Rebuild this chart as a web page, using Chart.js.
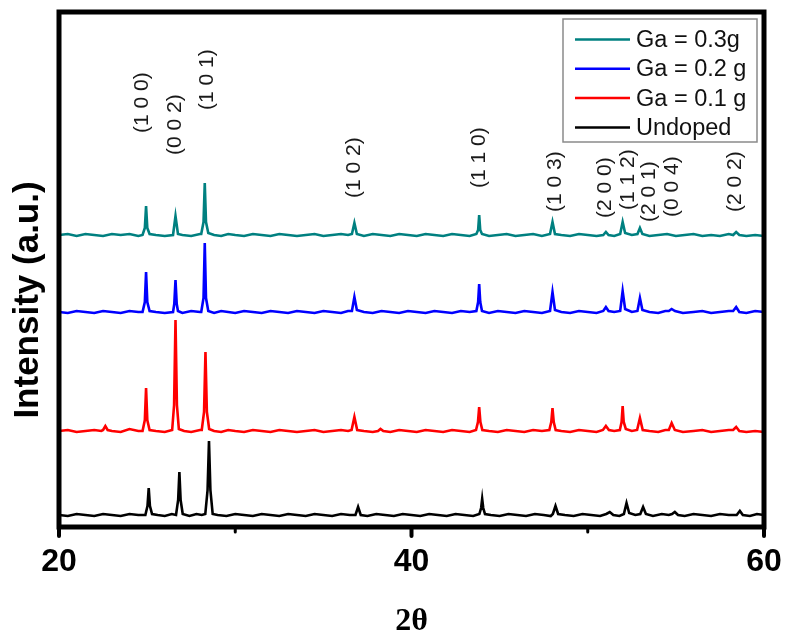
<!DOCTYPE html>
<html>
<head>
<meta charset="utf-8">
<title>XRD patterns</title>
<script src="https://cdn.jsdelivr.net/npm/chart.js"></script>
<style>
  html, body { margin: 0; padding: 0; background: #ffffff; }
  #xrd-canvas { display: block; }
</style>
</head>
<body>
<canvas id="xrd-canvas" width="785" height="633"></canvas>
<script>
// series as [2theta, intensity] pairs (offset stacked, a.u.)
const gaThree = [
  [20,295],[20.5,296],[21,294],[21.5,296],[22,295],[22.5,294],[23,296],[23.5,295],[24,296],[24.5,294],
  [24.74,295],[24.87,302],[24.94,324],[25.01,302],[25.14,296],
  [25.5,295],[26,294],
  [26.47,295],[26.61,314],[26.75,296],
  [27,295],[27.5,294],[28,296],
  [28.07,296],[28.2,308],[28.27,347],[28.34,308],[28.47,297],
  [28.8,295],[29.2,294],[29.6,296],[30,295],[30.5,294],[31,296],[31.5,295],[32,294],[32.5,296],[33,295],
  [33.5,294],[34,295],[34.5,296],[35,294],[35.5,295],[36,296],[36.4,295],
  [36.62,296],[36.76,307],[36.9,296],
  [37.3,294],[37.8,296],[38.3,295],[38.8,294],[39.3,296],[39.8,295],[40.3,294],[40.8,296],[41.3,295],
  [41.8,294],[42.3,296],[42.8,295],[43.3,294],
  [43.68,296],[43.78,300],[43.84,315],[43.9,300],[44.0,296],
  [44.4,294],[44.9,295],[45.4,296],[45.9,294],[46.4,295],[46.9,296],[47.4,294],
  [47.86,296],[48.0,308],[48.14,296],
  [48.5,295],[49,294],[49.5,296],[50,295],[50.5,294],
  [50.88,295],[51.03,298],[51.18,295],
  [51.5,294],
  [51.84,296],[51.98,308],[52.12,297],
  [52.5,295],
  [52.82,296],[52.96,302],[53.1,296],
  [53.5,294],[54,295],[54.5,296],[55,294],[55.5,295],[56,296],[56.5,294],[57,295],[57.5,294],[58,296],
  [58.25,295],[58.42,298],[58.6,295],
  [59,294],[59.5,295],[60,294]
];

const gaTwo = [
  [20,218],[20.5,217],[21,219],[21.5,218],[22,217],[22.5,219],[23,218],[23.5,217],[24,219],[24.5,218],
  [24.74,218],[24.87,228],[24.94,258],[25.01,228],[25.14,219],
  [25.5,218],[26,217],
  [26.47,218],[26.54,226],[26.61,250],[26.68,226],[26.75,219],
  [27,217],[27.5,219],[28,218],
  [28.07,218],[28.2,232],[28.27,287],[28.34,232],[28.47,219],
  [28.8,217],[29.2,219],[29.6,218],[30,217],[30.5,219],[31,218],[31.5,217],[32,219],[32.5,218],[33,217],
  [33.5,219],[34,218],[34.5,217],[35,219],[35.5,218],[36,217],[36.4,219],
  [36.62,219],[36.76,233],[36.9,220],
  [37.3,218],[37.8,217],[38.3,219],[38.8,218],[39.3,217],[39.8,219],[40.3,218],[40.8,217],[41.3,219],
  [41.8,218],[42.3,217],[42.8,219],[43.3,218],
  [43.68,219],[43.78,228],[43.84,246],[43.9,228],[44.0,219],
  [44.4,217],[44.9,219],[45.4,218],[45.9,217],[46.4,219],[46.9,218],[47.4,217],
  [47.86,219],[48.0,238],[48.14,220],
  [48.5,218],[49,217],[49.5,219],[50,218],[50.5,217],
  [50.88,219],[51.03,223],[51.18,219],
  [51.5,218],
  [51.84,219],[51.98,239],[52.12,221],
  [52.5,218],
  [52.82,219],[52.96,232],[53.1,220],
  [53.5,218],[54,217],[54.4,219],
  [54.6,219],[54.76,221],[54.95,219],
  [55.4,217],[56,218],[56.5,219],[57,217],[57.5,218],[58,219],
  [58.25,219],[58.42,223],[58.6,218],
  [59,217],[59.5,219],[60,218]
];

const gaOne = [
  [20,99],[20.5,100],[21,98],[21.5,99],[22,100],[22.4,99],
  [22.5,100],[22.63,104],[22.76,100],
  [23,99],[23.5,98],[24,101],[24.5,99],
  [24.74,99],[24.87,110],[24.94,142],[25.01,110],[25.14,100],
  [25.5,99],[26,98],
  [26.42,100],[26.53,125],[26.61,210],[26.69,125],[26.8,101],
  [27.1,99],[27.5,98],[28,100],
  [28.1,100],[28.23,118],[28.31,178],[28.39,118],[28.52,101],
  [28.8,99],[29.2,98],[29.6,100],[30,99],[30.5,98],[31,100],[31.5,99],[32,98],[32.5,100],[33,99],
  [33.5,98],[34,99],[34.5,100],[35,98],[35.5,99],[36,100],[36.4,99],
  [36.6,100],[36.76,113],[36.92,100],
  [37.3,99],[37.8,98],[38.1,99],[38.24,101],[38.4,99],[38.8,98],[39.3,100],[39.8,99],[40.3,98],
  [40.8,100],[41.3,99],[41.8,98],[42.3,100],[42.8,99],[43.3,98],
  [43.66,100],[43.77,108],[43.84,123],[43.91,108],[44.02,100],
  [44.4,99],[44.9,98],[45.4,100],[45.9,99],[46.4,98],[46.9,100],[47.4,99],
  [47.82,100],[47.93,108],[48.0,122],[48.07,108],[48.18,100],
  [48.5,99],[49,98],[49.5,100],[50,99],[50.5,98],
  [50.86,100],[51.03,104],[51.2,100],
  [51.5,99],
  [51.82,100],[51.92,108],[51.98,124],[52.04,108],[52.16,101],
  [52.5,99],
  [52.8,100],[52.96,112],[53.12,100],
  [53.5,99],[54,98],[54.4,100],
  [54.6,100],[54.76,107],[54.94,100],
  [55.4,98],[56,99],[56.5,100],[57,98],[57.5,99],[58,100],
  [58.25,100],[58.42,103],[58.6,99],
  [59,98],[59.5,99],[60,98]
];

const undoped = [
  [20,15],[20.5,14],[21,16],[21.5,15],[22,14],[22.5,16],[23,15],[23.5,14],[24,16],[24.5,15],
  [24.9,15],[25.02,24],[25.09,42],[25.16,24],[25.28,16],
  [25.6,15],[26,14],[26.4,16],
  [26.64,15],[26.76,30],[26.83,58],[26.9,30],[27.02,16],
  [27.4,14],[27.8,16],[28.1,15],
  [28.3,16],[28.43,40],[28.51,89],[28.59,40],[28.72,16],
  [29,15],[29.5,14],[30,16],[30.5,15],[31,14],[31.5,16],[32,15],[32.5,14],[33,16],[33.5,15],
  [34,14],[34.5,16],[35,15],[35.5,14],[36,16],[36.5,15],
  [36.82,15],[36.97,23],[37.12,15],
  [37.5,14],[38,16],[38.5,15],[39,14],[39.5,16],[40,15],[40.5,14],[41,16],[41.5,15],[42,14],
  [42.5,16],[43,15],[43.5,14],
  [43.85,16],[43.95,22],[44.01,31],[44.07,22],[44.17,16],
  [44.5,15],[45,14],[45.5,16],[46,15],[46.5,14],[47,16],[47.5,15],[47.9,14],
  [48.02,16],[48.17,24],[48.32,16],
  [48.7,15],[49.2,14],[49.7,16],[50.2,15],[50.7,14],
  [51.05,16],[51.25,18],[51.45,15],
  [51.8,14],
  [52.05,16],[52.2,27],[52.35,17],
  [52.7,15],
  [52.98,16],[53.14,23],[53.3,16],
  [53.7,14],[54.2,16],[54.6,15],
  [54.78,16],[54.94,18],[55.12,15],
  [55.5,14],[56,16],[56.5,15],[57,14],[57.5,16],[58,15],
  [58.45,15],[58.63,19],[58.8,15],
  [59.2,14],[59.6,16],[60,15]
];

const seriesNames = ['Ga = 0.3g', 'Ga = 0.2 g', 'Ga = 0.1 g', 'Undoped'];
const seriesColors = ['#008080', '#0000ff', '#ff0000', '#000000'];

// reflection labels: where they sit (2theta) and where the text starts (intensity)
const hklLabels = ['(1 0 0)', '(0 0 2)', '(1 0 1)', '(1 0 2)', '(1 1 0)', '(1 0 3)',
                   '(2 0 0)', '(1 1 2)', '(2 0 1)', '(0 0 4)', '(2 0 2)'];
const hklAngles = [24.73, 26.61, 28.40, 36.73, 43.82, 48.17, 51.01, 52.30, 53.47, 54.79, 58.39];
const hklBase = [397, 375, 420, 332, 342, 318, 312, 320, 308, 313, 318];

const majorTicks = [20, 40, 60];
const minorTicks = [30, 50];

// box frame + outward ticks (origin style)
const framePlugin = {
  id: 'frame',
  afterDatasetsDraw(chart) {
    const { ctx, chartArea: a, scales } = chart;
    ctx.save();
    ctx.strokeStyle = '#000';
    ctx.lineWidth = 5;
    ctx.strokeRect(a.left, a.top, a.right - a.left, a.bottom - a.top);

    ctx.lineCap = 'round';
    majorTicks.forEach(v => {
      const x = scales.x.getPixelForValue(v);
      ctx.lineWidth = 4;
      ctx.beginPath();
      ctx.moveTo(x, a.bottom);
      ctx.lineTo(x, a.bottom + 9);
      ctx.stroke();
    });
    minorTicks.forEach(v => {
      const x = scales.x.getPixelForValue(v);
      ctx.lineWidth = 3;
      ctx.beginPath();
      ctx.moveTo(x, a.bottom);
      ctx.lineTo(x, a.bottom + 5);
      ctx.stroke();
    });
    ctx.restore();
  }
};

// rotated hkl annotations above the peaks
const hklPlugin = {
  id: 'hkl',
  afterDatasetsDraw(chart) {
    const { ctx, scales } = chart;
    ctx.save();
    ctx.font = '21px "Liberation Sans", Arial, sans-serif';
    ctx.fillStyle = '#1a1a1a';
    ctx.textAlign = 'left';
    ctx.textBaseline = 'middle';
    hklLabels.forEach((label, i) => {
      const x = scales.x.getPixelForValue(hklAngles[i]);
      const y = scales.y.getPixelForValue(hklBase[i]);
      ctx.save();
      ctx.translate(x, y);
      ctx.rotate(-Math.PI / 2);
      ctx.fillText(label, 0, 0);
      ctx.restore();
    });
    ctx.restore();
  }
};

// boxed legend in the top right corner
const boxLegendPlugin = {
  id: 'boxLegend',
  afterDraw(chart) {
    const { ctx } = chart;
    const box = { x: 563, y: 19, w: 194, h: 123 };
    ctx.save();
    ctx.fillStyle = '#ffffff';
    ctx.fillRect(box.x, box.y, box.w, box.h);
    ctx.strokeStyle = '#8a8a8a';
    ctx.lineWidth = 1.5;
    ctx.strokeRect(box.x, box.y, box.w, box.h);

    ctx.font = '23.5px "Liberation Sans", Arial, sans-serif';
    ctx.textAlign = 'left';
    ctx.textBaseline = 'middle';
    chart.data.datasets.forEach((ds, i) => {
      const rowY = 39.5 + i * 29.3;
      ctx.strokeStyle = ds.borderColor;
      ctx.lineWidth = 2.5;
      ctx.beginPath();
      ctx.moveTo(575, rowY);
      ctx.lineTo(630, rowY);
      ctx.stroke();
      ctx.fillStyle = '#111';
      ctx.fillText(ds.label, 636, rowY + 1);
    });
    ctx.restore();
  }
};

// y title is drawn by hand, it sits below the centre of the axis
const yTitlePlugin = {
  id: 'yTitle',
  afterDraw(chart) {
    const { ctx } = chart;
    ctx.save();
    ctx.translate(28, 300);
    ctx.rotate(-Math.PI / 2);
    ctx.font = 'bold 35px "Liberation Sans", Arial, sans-serif';
    ctx.fillStyle = '#000';
    ctx.textAlign = 'center';
    ctx.textBaseline = 'middle';
    ctx.fillText('Intensity (a.u.)', 0, 0);
    ctx.restore();
  }
};

const allSeries = [gaThree, gaTwo, gaOne, undoped];

const ctx = document.getElementById('xrd-canvas').getContext('2d');
new Chart(ctx, {
  type: 'line',
  data: {
    datasets: allSeries.map((pts, i) => ({
      label: seriesNames[i],
      data: pts.map(([x, y]) => ({ x, y })),
      borderColor: seriesColors[i],
      borderWidth: 2.6,
      pointRadius: 0,
      tension: 0,
      fill: false
    }))
  },
  options: {
    responsive: false,
    animation: false,
    devicePixelRatio: 1,
    layout: {
      padding: { left: 59, right: 21, top: 12, bottom: 0 }
    },
    plugins: {
      legend: { display: false },
      tooltip: { enabled: false }
    },
    scales: {
      x: {
        type: 'linear',
        min: 20,
        max: 60,
        afterFit(scale) {
          scale.height = 106;
          // end labels may overhang, don't let them shrink the plot
          scale.paddingLeft = 0;
          scale.paddingRight = 0;
        },
        grid: { display: false, drawTicks: false },
        border: { display: false },
        ticks: {
          stepSize: 20,
          padding: 16,
          color: '#000',
          font: { family: '"Liberation Sans", Arial, sans-serif', size: 32, weight: 'bold' }
        },
        title: {
          display: true,
          text: '2θ',
          color: '#000',
          padding: { top: 0, bottom: -8 },
          font: { family: '"Liberation Serif", "Times New Roman", serif', size: 32, weight: 'bold' }
        }
      },
      y: {
        display: false,
        min: 3,
        max: 518
      }
    }
  },
  plugins: [framePlugin, hklPlugin, boxLegendPlugin, yTitlePlugin]
});
</script>
</body>
</html>
